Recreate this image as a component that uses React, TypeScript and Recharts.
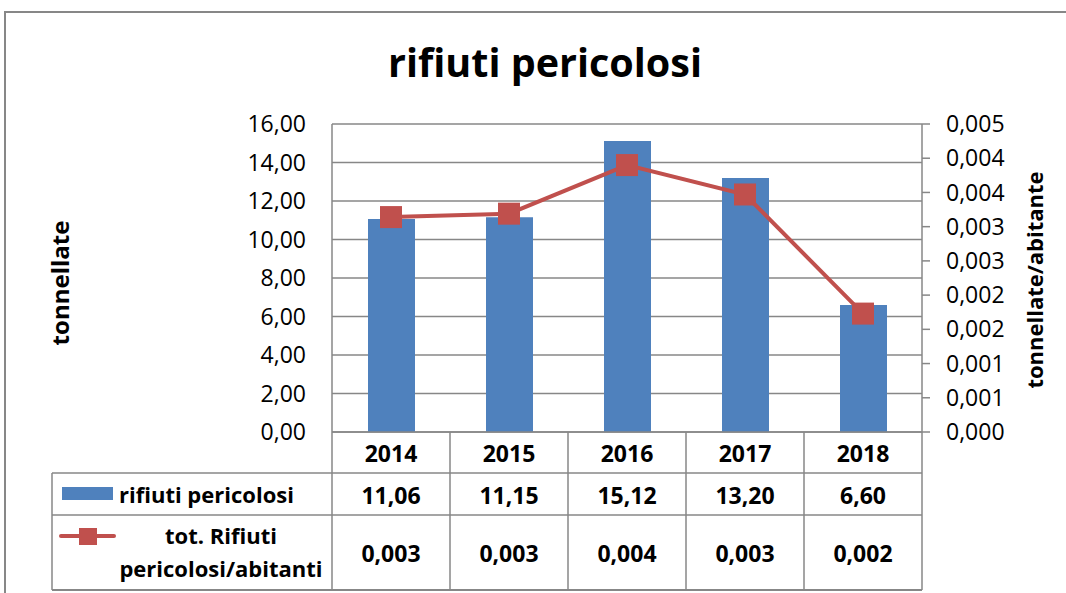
import React from "react"
import {
  ComposedChart,
  Bar,
  Line,
  XAxis,
  YAxis,
  CartesianGrid,
} from "recharts"

// data
const years = ["2014", "2015", "2016", "2017", "2018"]
const rifiuti = [11.06, 11.15, 15.12, 13.2, 6.6]
const perAbitante = [0.00314, 0.00319, 0.0039, 0.00347, 0.00173]
const leftTicks = [0, 2, 4, 6, 8, 10, 12, 14, 16]
const rightTicks = [0, 0.0005, 0.001, 0.0015, 0.002, 0.0025, 0.003, 0.0035, 0.004, 0.0045]

const data = years.map((year, i) => ({
  year,
  rifiuti: rifiuti[i],
  perAbitante: perAbitante[i],
}))

const W = 1066
const H = 593
const LEFT_W = 332
const RIGHT_W = 144
const TOP = 124
const X_H = 161
const COL_W = (W - LEFT_W - RIGHT_W) / years.length
const FONT = "'Open Sans', sans-serif"
const GRID = "#878787"
const BLUE = "#4F81BD"
const RED = "#C0504D"

const fmt2 = (v: number) => v.toFixed(2).replace(".", ",")
const fmt3 = (v: number) =>
  (Math.round(v * 1000 + 1e-6) / 1000).toFixed(3).replace(".", ",")

const SquareDot = (props: any) => {
  const { cx, cy } = props
  if (cx == null || cy == null) return null
  return <rect x={cx - 11} y={cy - 11} width={22} height={22} fill={RED} />
}

// each x tick draws one column of the data table
const TableTick = (props: any) => {
  const { x, y, index, payload } = props
  const half = COL_W / 2
  const txt = {
    textAnchor: "middle" as const,
    dominantBaseline: "central" as const,
    fontFamily: FONT,
    fontWeight: 700,
    fill: "#000",
  }
  return (
    <g>
      {index === 0 && (
        <line x1={x - half} y1={y} x2={x - half} y2={y + 158} stroke={GRID} strokeWidth={1.5} />
      )}
      <line x1={x + half} y1={y} x2={x + half} y2={y + 158} stroke={GRID} strokeWidth={1.5} />
      <text x={x} y={y + 21} fontSize={23} {...txt}>{payload.value}</text>
      <text x={x} y={y + 63} fontSize={23} {...txt}>{fmt2(rifiuti[index])}</text>
      <text x={x} y={y + 121} fontSize={23} {...txt}>{fmt3(perAbitante[index])}</text>
    </g>
  )
}

export default function App() {
  return (
    <div style={{ position: "absolute", left: 0, top: 0, width: W, height: H, background: "#fff" }}>
      <ComposedChart
        width={W}
        height={H}
        data={data}
        margin={{ top: TOP, right: 0, bottom: 0, left: 0 }}
      >
        <CartesianGrid yAxisId="left" vertical={false} stroke={GRID} strokeWidth={1.5} />
        <XAxis
          dataKey="year"
          height={X_H}
          interval={0}
          tickLine={false}
          tickSize={0}
          tickMargin={0}
          axisLine={{ stroke: GRID, strokeWidth: 1.5 }}
          tick={<TableTick />}
        />
        <YAxis
          yAxisId="left"
          width={LEFT_W}
          domain={[0, 16]}
          ticks={leftTicks}
          tickFormatter={fmt2}
          tickLine={false}
          tickSize={0}
          tickMargin={26}
          axisLine={{ stroke: GRID, strokeWidth: 1.5 }}
          tick={{ fontSize: 23, fill: "#000", fontFamily: FONT }}
        />
        <YAxis
          yAxisId="right"
          orientation="right"
          width={RIGHT_W}
          domain={[0, 0.0045]}
          ticks={rightTicks}
          tickFormatter={fmt3}
          tickSize={8}
          tickMargin={16}
          tickLine={{ stroke: GRID, strokeWidth: 1.5 }}
          axisLine={{ stroke: GRID, strokeWidth: 1.5 }}
          tick={{ fontSize: 23, fill: "#000", fontFamily: FONT, textAnchor: "start" }}
        />
        <Bar
          yAxisId="left"
          dataKey="rifiuti"
          name="rifiuti pericolosi"
          fill={BLUE}
          barSize={47}
          isAnimationActive={false}
        />
        <Line
          yAxisId="right"
          dataKey="perAbitante"
          name="tot. Rifiuti pericolosi/abitanti"
          stroke={RED}
          strokeWidth={4}
          dot={<SquareDot />}
          activeDot={false}
          isAnimationActive={false}
        />
      </ComposedChart>

      {/* frame, titles and the legend column of the data table */}
      <svg
        width={W}
        height={H}
        style={{ position: "absolute", left: 0, top: 0, pointerEvents: "none" }}
      >
        <polyline points={`5,${H} 5,12 ${W},12`} fill="none" stroke={GRID} strokeWidth={2} />
        <text x={545} y={77} textAnchor="middle" fontFamily={FONT} fontWeight={700} fontSize={39.5}>
          rifiuti pericolosi
        </text>
        <text
          x={59}
          y={283}
          textAnchor="middle"
          dominantBaseline="central"
          fontFamily={FONT}
          fontWeight={700}
          fontSize={24}
          transform="rotate(-90 59 283)"
        >
          tonnellate
        </text>
        <text
          x={1034}
          y={280}
          textAnchor="middle"
          dominantBaseline="central"
          fontFamily={FONT}
          fontWeight={700}
          fontSize={22}
          transform="rotate(-90 1034 280)"
        >
          tonnellate/abitante
        </text>
        <line x1={52} y1={473} x2={922} y2={473} stroke={GRID} strokeWidth={1.5} />
        <line x1={52} y1={515} x2={922} y2={515} stroke={GRID} strokeWidth={1.5} />
        <line x1={52} y1={590} x2={922} y2={590} stroke={GRID} strokeWidth={2} />
        <line x1={52} y1={473} x2={52} y2={590} stroke={GRID} strokeWidth={1.5} />
        <rect x={62} y={487} width={51} height={13} fill={BLUE} />
        <text x={119} y={494} dominantBaseline="central" fontFamily={FONT} fontWeight={700} fontSize={22}>
          rifiuti pericolosi
        </text>
        <line x1={61} y1={536} x2={114} y2={536} stroke={RED} strokeWidth={4} strokeLinecap="round" />
        <rect x={79} y={528} width={18} height={17} fill={RED} />
        <text x={221} y={535} textAnchor="middle" dominantBaseline="central" fontFamily={FONT} fontWeight={700} fontSize={22}>
          tot. Rifiuti
        </text>
        <text x={221} y={568} textAnchor="middle" dominantBaseline="central" fontFamily={FONT} fontWeight={700} fontSize={22}>
          pericolosi/abitanti
        </text>
      </svg>
    </div>
  )
}
